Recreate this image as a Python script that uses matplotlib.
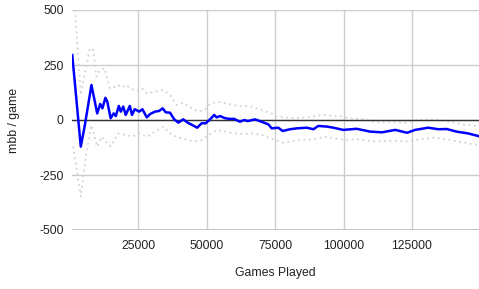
import matplotlib
matplotlib.use("Agg")
import matplotlib.pyplot as plt

# games played vs mbb/game, with confidence band
games = [1000, 4100, 5500, 8000, 10100, 11200, 12000, 13100, 13800, 15000,
         16100, 16900, 18000, 18700, 19600, 20500, 22000, 22800, 23800, 25400,
         26600, 28200, 29400, 31200, 32700, 34000, 35100, 36700, 38200, 39700,
         41500, 43100, 44800, 46600, 48200, 49700, 51300, 52800, 53700, 54900,
         56800, 58600, 60100, 62200, 63800, 65000, 67700, 70100, 72600, 73800,
         76200, 77800, 80500, 82900, 86600, 89000, 90800, 93900, 96300, 99900,
         104800, 109800, 114100, 118900, 123200, 126100, 130900, 134600, 137700,
         141300, 145500, 149200]
mbb = [295, -121, -30, 159, 30, 73, 53, 101, 83, 8,
       30, 18, 64, 38, 61, 23, 64, 23, 49, 38,
       49, 12, 27, 38, 41, 53, 35, 33, 3, -12,
       3, -12, -23, -35, -15, -15, 3, 23, 12, 18,
       8, 5, 5, -8, 0, -5, 3, -8, -20, -38,
       -35, -50, -42, -38, -35, -42, -27, -30, -35, -45,
       -40, -53, -56, -45, -58, -45, -35, -42, -41,
       -53, -61, -73]

upper_games = [1100, 2000, 4100, 7400, 8600, 9800, 11000, 12800, 14700, 15900,
               17700, 18900, 20700, 22600, 25300, 26400, 28200, 31200, 34200,
               36700, 39100, 41500, 44600, 47000, 49500, 50700, 53700, 56800,
               61600, 66500, 70100, 73800, 75500, 81600, 86400, 92500, 99800,
               101900, 106800, 111600, 117700, 122600, 126700, 132800, 138900,
               143700, 149200]
upper = [700, 500, 114, 326, 318, 197, 227, 235, 144, 148,
         159, 148, 159, 139, 136, 144, 121, 129, 136,
         114, 68, 79, 53, 38, 49, 68, 83, 76,
         64, 61, 45, 30, 15, 8, 12, 23, 15,
         8, 5, -11, -8, -12, 0, 3, -8,
         -20, -27]

lower_games = [1300, 4100, 6100, 8000, 10100, 11600, 15000, 17700, 20700, 22800,
               25300, 28200, 31200, 34200, 37300, 40900, 45200, 48200, 50700,
               53700, 56800, 61600, 66500, 70100, 73200, 75500, 77900, 84000,
               88900, 93700, 98600, 100700, 105500, 111600, 117700, 123800,
               126700, 132800, 138900, 144300, 149200]
lower = [-121, -348, -152, -23, -121, -76, -121, -61, -68, -76,
         -61, -76, -53, -30, -68, -83, -98, -91, -68,
         -45, -53, -64, -61, -68, -83, -91, -103, -91,
         -88, -76, -88, -91, -88, -98, -94, -98,
         -91, -80, -91, -103, -114]

xticks = [25000, 50000, 75000, 100000, 125000]
yticks = [-500, -250, 0, 250, 500]

plt.rcParams['font.family'] = ['Liberation Sans', 'DejaVu Sans']

fig = plt.figure(figsize=(4.79, 2.89), dpi=100)
ax = fig.add_axes([72/479, 1 - 230/289, 1 - 72/479, 220/289])

ax.plot(upper_games, upper, color='#d2d2d2', linestyle=(0, (1, 2)), linewidth=1.3, zorder=2)
ax.plot(lower_games, lower, color='#d2d2d2', linestyle=(0, (1, 2)), linewidth=1.3, zorder=2)
ax.axhline(0, color='#333333', linewidth=1, zorder=3)
ax.plot(games, mbb, color='#0000ff', linewidth=1.8, zorder=4)

ax.set_xlim(900, 149450)
ax.set_ylim(-500, 500)
ax.set_xticks(xticks)
ax.set_yticks(yticks)
ax.set_xticklabels([str(t) for t in xticks])
ax.set_yticklabels([str(t) for t in yticks])
ax.grid(True, color='#cccccc', linewidth=1)
ax.set_axisbelow(True)
for s in ax.spines.values():
    s.set_visible(False)
ax.axhline(-500, color='#bbbbbb', linewidth=1.2, zorder=1)
ax.tick_params(length=0, labelsize=8.8, colors='#222222')
ax.tick_params(axis='x', pad=7)
ax.tick_params(axis='y', pad=6)

ax.set_xlabel('Games Played', fontsize=8.8, color='#222222', labelpad=11)
ax.set_ylabel('mbb / game', fontsize=8.8, color='#222222', labelpad=14)

fig.savefig('out.png', dpi=100)
